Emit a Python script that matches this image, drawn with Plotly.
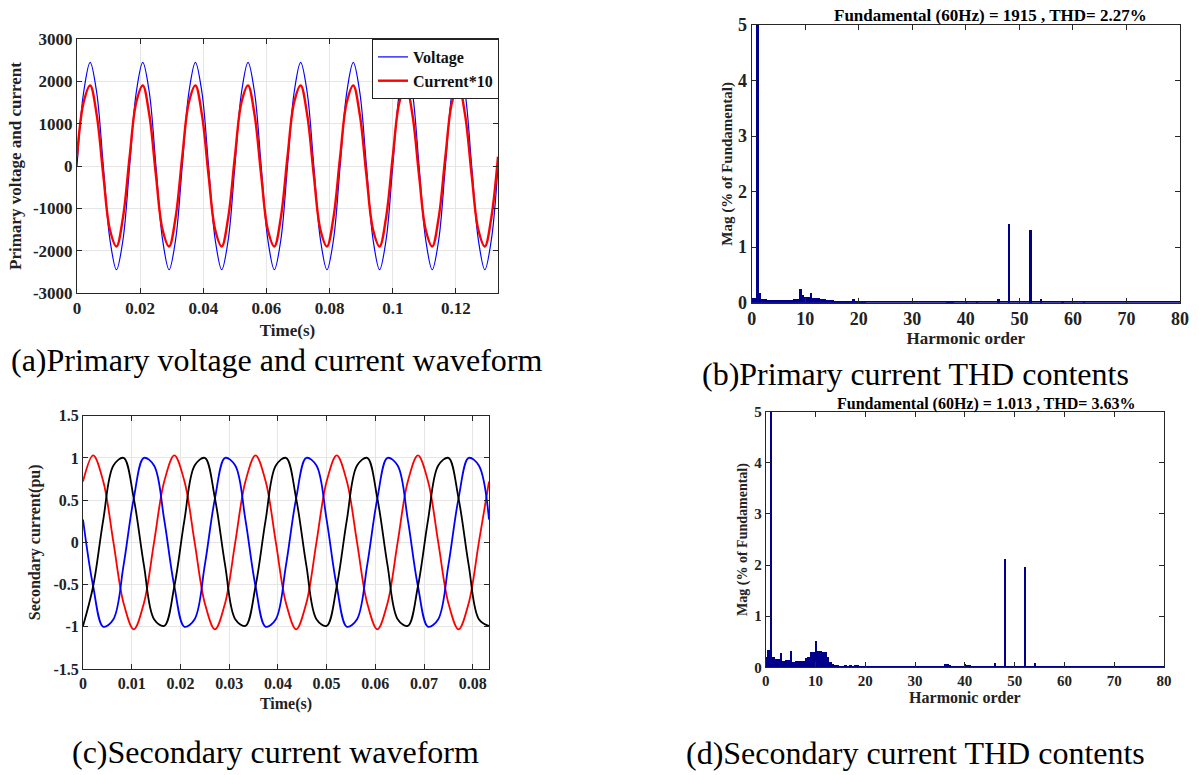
import plotly.graph_objects as go

W, H = 1199, 775

# ---------------- DATA ----------------
# sampling step of the waveform samples (1/8 of a 60 Hz cycle), seconds
sample_step = 1.0 / 480.0

# (a) primary voltage samples (every 45 electrical degrees)
voltage = [0, 1730, 2450, 1730, 0, -1730, -2450, -1730,
           0, 1730, 2450, 1730, 0, -1730, -2450, -1730,
           0, 1730, 2450, 1730, 0, -1730, -2450, -1730,
           0, 1730, 2450, 1730, 0, -1730, -2450, -1730,
           0, 1730, 2450, 1730, 0, -1730, -2450, -1730,
           0, 1730, 2450, 1730, 0, -1730, -2450, -1730,
           0, 1730, 2450, 1730, 0, -1730, -2450, -1730,
           0, 1730, 2450, 1730, 0, -1730, -2450, -1730,
           0]
# (a) primary current x10 samples
current10 = [220, 1500, 1902, 1203, -220, -1500, -1902, -1203,
             220, 1500, 1902, 1203, -220, -1500, -1902, -1203,
             220, 1500, 1902, 1203, -220, -1500, -1902, -1203,
             220, 1500, 1902, 1203, -220, -1500, -1902, -1203,
             220, 1500, 1902, 1203, -220, -1500, -1902, -1203,
             220, 1500, 1902, 1203, -220, -1500, -1902, -1203,
             220, 1500, 1902, 1203, -220, -1500, -1902, -1203,
             220, 1500, 1902, 1203, -220, -1500, -1902, -1203,
             220]

# (c) secondary three-phase currents (pu), every 45 electrical degrees
sec_red = [0.72, 1.03, 0.72, 0.0, -0.72, -1.03, -0.72, 0.0,
           0.72, 1.03, 0.72, 0.0, -0.72, -1.03, -0.72, 0.0,
           0.72, 1.03, 0.72, 0.0, -0.72, -1.03, -0.72, 0.0,
           0.72, 1.03, 0.72, 0.0, -0.72, -1.03, -0.72, 0.0,
           0.72, 1.03, 0.72, 0.0, -0.72, -1.03, -0.72, 0.0,
           0.72]
sec_black = [-0.99, -0.52, 0.27, 0.91, 1.0, 0.52, -0.27, -0.91,
             -0.99, -0.52, 0.27, 0.91, 1.0, 0.52, -0.27, -0.91,
             -0.99, -0.52, 0.27, 0.91, 1.0, 0.52, -0.27, -0.91,
             -0.99, -0.52, 0.27, 0.91, 1.0, 0.52, -0.27, -0.91,
             -0.99, -0.52, 0.27, 0.91, 1.0, 0.52, -0.27, -0.91,
             -0.99]
sec_blue = [0.27, -0.52, -1.0, -0.91, -0.27, 0.52, 1.0, 0.91,
            0.27, -0.52, -1.0, -0.91, -0.27, 0.52, 1.0, 0.91,
            0.27, -0.52, -1.0, -0.91, -0.27, 0.52, 1.0, 0.91,
            0.27, -0.52, -1.0, -0.91, -0.27, 0.52, 1.0, 0.91,
            0.27, -0.52, -1.0, -0.91, -0.27, 0.52, 1.0, 0.91,
            0.27]

# (b) primary current spectrum (% of fundamental)
b_orders = [0, 0.5, 1.0, 1.5, 2.0, 2.5, 3.0, 3.5, 4.0, 4.5, 5.0, 5.5, 6.0, 6.5,
            7.0, 7.5, 8.0, 8.5, 9.0, 9.5, 10.0, 10.5, 11.0, 11.5, 12.0, 12.5,
            13.0, 13.5, 14.0, 14.5, 15.0, 15.5, 16.0, 16.5, 17.0, 17.5, 18.0,
            18.5, 19.0, 19.5, 20.0, 20.5, 21.0,
            36.5, 37.0, 37.5, 40.0, 42.0, 46.0, 48.0, 52.0, 54.0, 58.0, 62.0]
b_mags = [0.08, 0.08, 100, 0.17, 0.07, 0.06, 0.05, 0.055, 0.05, 0.055, 0.05, 0.045, 0.05, 0.04,
          0.05, 0.055, 0.06, 0.07, 0.25, 0.13, 0.11, 0.10, 0.18, 0.09, 0.09, 0.08,
          0.07, 0.065, 0.05, 0.045, 0.04, 0.03, 0.03, 0.035, 0.035, 0.03, 0.025,
          0.025, 0.06, 0.025, 0.02, 0.02, 0.03,
          0.03, 0.03, 0.03, 0.03, 0.03, 0.066, 1.42, 1.31, 0.066, 0.025, 0.025]
b_floor = 0.015

# (d) secondary current spectrum (% of fundamental)
d_orders = [0, 0.5, 1.0, 1.5, 2.0, 2.5, 3.0, 3.5, 4.0, 4.5, 5.0, 5.5, 6.0, 6.5,
            7.0, 7.5, 8.0, 8.5, 9.0, 9.5, 10.0, 10.5, 11.0, 11.5, 12.0, 12.5,
            13.0, 13.5, 14.0, 14.5, 15.0, 15.5, 16.0, 16.5, 17.0, 17.5, 18.0,
            18.5, 19.0, 19.5, 20.0, 20.5, 21.0, 21.5, 22.0, 22.5, 23.0, 23.5, 24.0, 24.5,
            36.0, 36.5, 37.0, 40.0, 40.5, 41.0, 42.0, 46.0, 48.0, 52.0, 54.0,
            56.0, 59.0, 63.0, 65.5, 69.5]
d_mags = [0.2, 0.34, 100, 0.21, 0.16, 0.16, 0.29, 0.13, 0.14, 0.14, 0.33, 0.10, 0.13, 0.13,
          0.12, 0.12, 0.18, 0.20, 0.30, 0.30, 0.52, 0.33, 0.32, 0.30, 0.31, 0.20,
          0.10, 0.08, 0.05, 0.05, 0.04, 0.04, 0.05, 0.04, 0.045, 0.04, 0.045,
          0.045, 0.04, 0.035, 0.035, 0.035, 0.035, 0.035, 0.035, 0.035, 0.035, 0.03, 0.035, 0.03,
          0.065, 0.065, 0.05, 0.065, 0.06, 0.06, 0.04, 0.085, 2.12, 1.96, 0.085,
          0.03, 0.04, 0.04, 0.03, 0.03]
d_floor = 0.02

harmonic_span = [0, 80]

titles_b = "Fundamental (60Hz) = 1915 , THD= 2.27%"
titles_d = "Fundamental (60Hz) = 1.013 , THD= 3.63%"
captions = ["(a)Primary voltage and current waveform",
            "(b)Primary current THD contents",
            "(c)Secondary current waveform",
            "(d)Secondary current THD contents"]

# ---------------- HELPERS ----------------
def px_x(p):
    return p / W

def px_y(p):
    return 1 - p / H

SERIF = "Liberation Serif, Times New Roman, serif"
BAR = "#00008B"
AX = "#262626"

t_a = [i * sample_step for i in range(len(voltage))]
t_c = [i * sample_step for i in range(len(sec_red))]

fig = go.Figure()

# (a)
fig.add_trace(go.Scatter(x=t_a, y=voltage, mode="lines", name="Voltage",
                         line=dict(color="#0000FF", width=1.2, shape="spline"),
                         xaxis="x", yaxis="y"))
fig.add_trace(go.Scatter(x=t_a, y=current10, mode="lines", name="Current*10",
                         line=dict(color="#FF0000", width=2.4, shape="spline"),
                         xaxis="x", yaxis="y"))

# (b)
fig.add_trace(go.Bar(x=[sum(harmonic_span) / 2], y=[b_floor],
                     width=[harmonic_span[1] - harmonic_span[0]],
                     marker=dict(color=BAR, line=dict(width=0)),
                     showlegend=False, xaxis="x2", yaxis="y2"))
fig.add_trace(go.Bar(x=b_orders, y=b_mags, width=0.5,
                     marker=dict(color=BAR, line=dict(width=0)),
                     showlegend=False, xaxis="x2", yaxis="y2"))

# (c)
for ys, col in [(sec_red, "#FF0000"), (sec_blue, "#0000FF"), (sec_black, "#000000")]:
    fig.add_trace(go.Scatter(x=t_c, y=ys, mode="lines", showlegend=False,
                             line=dict(color=col, width=1.8, shape="spline"),
                             xaxis="x3", yaxis="y3"))

# (d)
fig.add_trace(go.Bar(x=[sum(harmonic_span) / 2], y=[d_floor],
                     width=[harmonic_span[1] - harmonic_span[0]],
                     marker=dict(color=BAR, line=dict(width=0)),
                     showlegend=False, xaxis="x4", yaxis="y4"))
fig.add_trace(go.Bar(x=d_orders, y=d_mags, width=0.5,
                     marker=dict(color=BAR, line=dict(width=0)),
                     showlegend=False, xaxis="x4", yaxis="y4"))


def axis(domain, rng, dtick, size, title=None, grid=False, anchor=None, standoff=4,
         tickvals=None, ticktext=None, tsize=None):
    d = dict(domain=domain, range=rng, showgrid=grid, gridcolor="#e6e6e6", gridwidth=1,
             zeroline=False, showline=True, linecolor=AX, linewidth=1, mirror="ticks",
             ticks="inside", ticklen=5, tickcolor=AX, automargin=False,
             tickfont=dict(family=SERIF, size=size, color="#222", weight="bold"),
             anchor=anchor)
    if tickvals is not None:
        d["tickvals"] = tickvals
        d["ticktext"] = ticktext
    else:
        d["dtick"] = dtick
        d["tick0"] = 0
    if title:
        d["title"] = dict(text=title, standoff=standoff,
                          font=dict(family=SERIF, size=tsize or size, color="#222", weight="bold"))
    return d


fig.update_layout(
    width=W, height=H, margin=dict(l=0, r=0, t=0, b=0),
    paper_bgcolor="white", plot_bgcolor="white", barmode="overlay",
    bargap=0,
    xaxis=axis([px_x(77), px_x(498)], [0, 8 / 60], 0.02, 17, "Time(s)", True, "y", 6,
               tickvals=[0, 0.02, 0.04, 0.06, 0.08, 0.1, 0.12],
               ticktext=["0", "0.02", "0.04", "0.06", "0.08", "0.1", "0.12"]),
    yaxis=axis([px_y(293), px_y(39)], [-3000, 3000], 1000, 17,
               "Primary voltage and current", True, "x", 6,
               tickvals=[-3000, -2000, -1000, 0, 1000, 2000, 3000],
               ticktext=["-3000", "-2000", "-1000", "0", "1000", "2000", "3000"]),
    xaxis2=axis([px_x(751.7), px_x(1180)], [0, 80], 10, 18, "Harmonic order", False, "y2", 2, tsize=17),
    yaxis2=axis([px_y(302.7), px_y(25)], [0, 5], 1, 18, "Mag (% of Fundamental)", False, "x2", 1, tsize=15),
    xaxis3=axis([px_x(83), px_x(489)], [0, 5 / 60], 0.01, 16, "Time(s)", True, "y3", 6,
                tickvals=[0, 0.01, 0.02, 0.03, 0.04, 0.05, 0.06, 0.07, 0.08],
                ticktext=["0", "0.01", "0.02", "0.03", "0.04", "0.05", "0.06", "0.07", "0.08"]),
    yaxis3=axis([px_y(669), px_y(415.7)], [-1.5, 1.5], 0.5, 16, "Secondary current(pu)", True, "x3", 8,
                tickvals=[-1.5, -1, -0.5, 0, 0.5, 1, 1.5],
                ticktext=["-1.5", "-1", "-0.5", "0", "0.5", "1", "1.5"]),
    xaxis4=axis([px_x(765.7), px_x(1164)], [0, 80], 10, 15, "Harmonic order", False, "y4", 2, tsize=16),
    yaxis4=axis([px_y(667.3), px_y(411.7)], [0, 5], 1, 15, "Mag (% of Fundamental)", False, "x4", 3, tsize=14),
    legend=dict(x=px_x(499), y=px_y(39), xanchor="right", yanchor="top",
                bgcolor="white", bordercolor="#222", borderwidth=1,
                font=dict(family=SERIF, size=16, color="#111", weight="bold"),
                tracegroupgap=0, itemwidth=30),
)

ann = [
    dict(text=titles_b, x=px_x(990), y=px_y(15), size=17, bold=True),
    dict(text=titles_d, x=px_x(986), y=px_y(404), size=16, bold=True),
    dict(text=captions[0], x=px_x(276.5), y=px_y(360), size=32, bold=False),
    dict(text=captions[1], x=px_x(915), y=px_y(374), size=32, bold=False),
    dict(text=captions[2], x=px_x(275.5), y=px_y(752), size=32, bold=False),
    dict(text=captions[3], x=px_x(915), y=px_y(753), size=32, bold=False),
]
for a in ann:
    fig.add_annotation(text=a["text"], x=a["x"], y=a["y"], xref="paper", yref="paper",
                       xanchor="center", yanchor="middle", showarrow=False,
                       font=dict(family=SERIF, size=a["size"], color="#000",
                                 weight="bold" if a["bold"] else "normal"))

fig.write_html("out.html", config={"displayModeBar": False},
               post_script="document.body.style.margin='0';")
